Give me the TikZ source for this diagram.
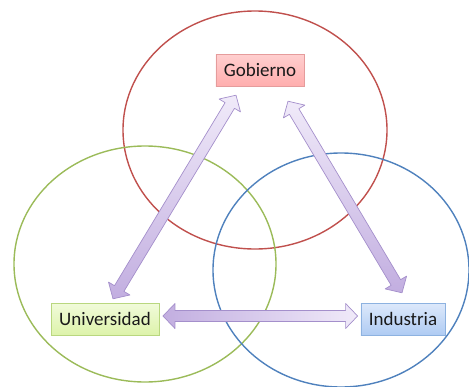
\documentclass[tikz,border=0pt]{standalone}
\usepackage{fontspec}
\setmainfont{Carlito}
\usepackage{xcolor}
\usepackage{tikz}
\usetikzlibrary{calc, shadows}

\definecolor{ringred}{HTML}{C0504D}
\definecolor{ringgreen}{HTML}{9BBB59}
\definecolor{ringblue}{HTML}{4F81BD}
\definecolor{lilacline}{HTML}{A48FCB}
\definecolor{lilacdark}{HTML}{C2AEE0}
\definecolor{lilaclight}{HTML}{F0EAF9}
\definecolor{gobtop}{HTML}{FFCFCF}
\definecolor{gobbot}{HTML}{FFAEAE}
\definecolor{gobline}{HTML}{E59C9C}
\definecolor{unitop}{HTML}{F1FBDA}
\definecolor{unibot}{HTML}{DDF3AA}
\definecolor{uniline}{HTML}{B9D77F}
\definecolor{indtop}{HTML}{DDE9FB}
\definecolor{indbot}{HTML}{AFCBF3}
\definecolor{indline}{HTML}{8DB2E0}

% fat double arrow between two points: [shading] {from} {to}
\newcommand{\fatarrow}[3][]{%
  \coordinate (fa-a) at (#2);
  \coordinate (fa-b) at (#3);
  \coordinate (fa-p) at ($(fa-a)!12pt!(fa-b)$);
  \coordinate (fa-q) at ($(fa-b)!12pt!(fa-a)$);
  \draw [bigarrow, #1] (fa-a) -- ($(fa-p)!12.5pt!90:(fa-b)$) -- ($(fa-p)!5.5pt!90:(fa-b)$)
    -- ($(fa-q)!5.5pt!-90:(fa-a)$) -- ($(fa-q)!12.5pt!-90:(fa-a)$) -- (fa-b)
    -- ($(fa-q)!12.5pt!90:(fa-a)$) -- ($(fa-q)!5.5pt!90:(fa-a)$)
    -- ($(fa-p)!5.5pt!-90:(fa-b)$) -- ($(fa-p)!12.5pt!-90:(fa-b)$) -- cycle;
}

\begin{document}
\begin{tikzpicture}[x=1pt, y=-1pt,
    ring/.style={line width=1.4pt},
    bigarrow/.style={draw=lilacline, line width=0.7pt, line join=round},
    actor/.style={draw, rectangle, minimum height=32pt, inner xsep=8pt,
      text=black!90, font=\fontsize{19}{22}\selectfont,
      drop shadow={opacity=0.2, shadow xshift=1pt, shadow yshift=-1.2pt}},
    gob/.style={actor, draw=gobline, top color=gobtop, bottom color=gobbot},
    uni/.style={actor, draw=uniline, top color=unitop, bottom color=unibot},
    ind/.style={actor, draw=indline, top color=indtop, bottom color=indbot}]

  \useasboundingbox (0,0) rectangle (469,386);

  % the three spheres
  \draw [ring, ringred]   (255,130) ellipse [x radius=132, y radius=119];
  \draw [ring, ringgreen] (145,264) ellipse [x radius=131, y radius=118];
  \draw [ring, ringblue]  (341,270) ellipse [x radius=128, y radius=117];

  % actors
  \node [gob] (gobierno)    at (260,70)  {Gobierno};
  \node [uni] (universidad) at (105,319) {Universidad};
  \node [ind] (industria)   at (403,319) {Industria};

  % links
  \fatarrow[top color=lilaclight, bottom color=lilacdark]
    {$(universidad.north)+(8,-4)$}{$(gobierno.south)+(-24,9)$}
  \fatarrow[top color=lilaclight, bottom color=lilacdark]
    {$(gobierno.south)+(28,15)$}{$(industria.north)+(-1,-10)$}
  \fatarrow[left color=lilacdark, right color=lilaclight]
    {$(universidad.east)+(4,-3)$}{$(industria.west)+(-3,-3)$}

\end{tikzpicture}
\end{document}
